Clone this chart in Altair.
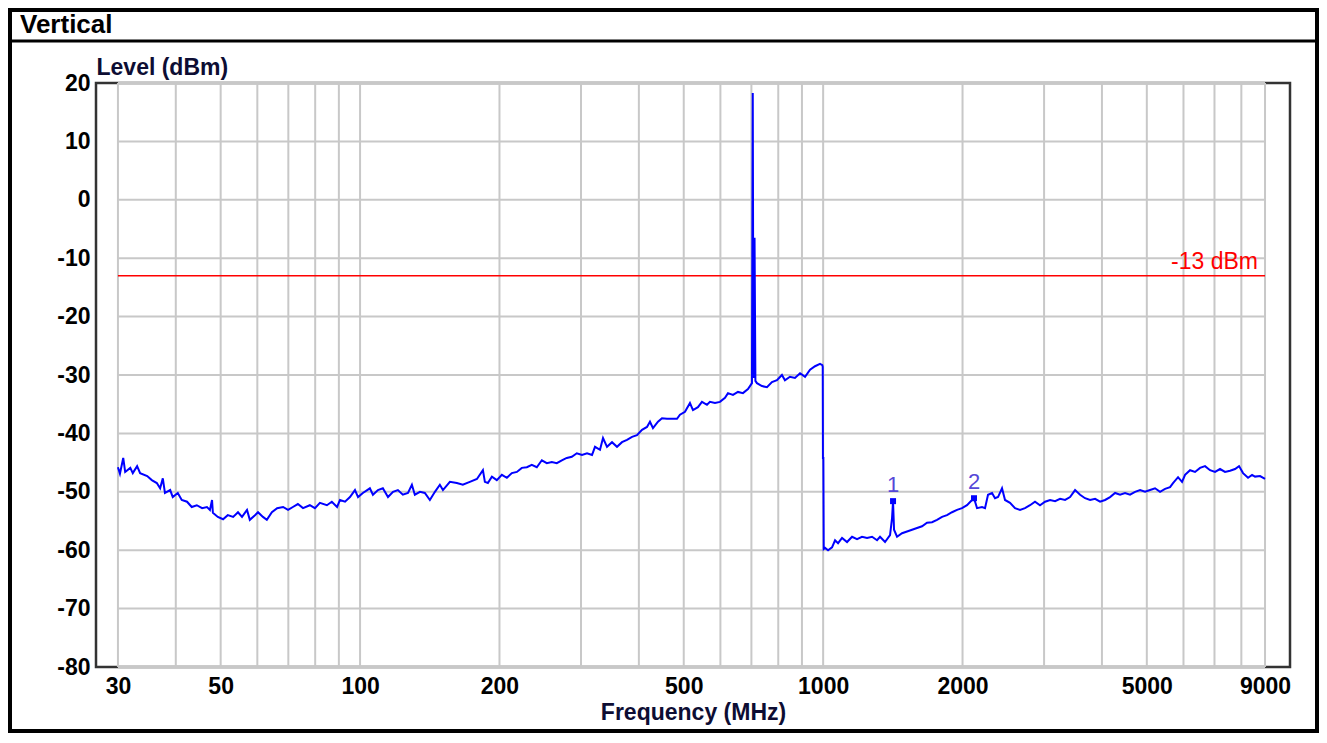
import altair as alt
import pandas as pd

# ---------------- data ----------------
freq_mhz = [
    30.0, 30.3, 30.8, 31.1, 31.9, 32.3, 33.0, 33.5, 34.7, 35.5, 36.4, 37.0, 37.5, 37.9,
    38.9, 39.4, 40.4, 41.2, 42.3, 43.3, 44.4, 45.6, 46.7, 47.4, 47.9, 48.1, 49.3, 50.6,
    51.8, 53.2, 54.5, 55.6, 57.0, 57.8, 59.3, 60.2, 61.7, 62.9, 64.5, 66.2, 68.2, 69.9,
    71.6, 73.4, 75.3, 77.9, 79.9, 81.9, 84.8, 86.9, 89.2, 90.5, 92.8, 95.1, 97.5, 99.0,
    101.4, 105.0, 106.6, 109.3, 112.0, 114.9, 117.8, 120.7, 123.7, 126.9, 129.4, 131.3,
    134.7, 138.0, 141.5, 145.1, 148.7, 151.0, 156.3, 161.8, 166.7, 172.6, 178.8, 184.2,
    186.0, 188.8,
    192.6, 197.4, 202.4, 207.5, 212.7, 218.1, 223.5, 229.2, 234.9, 240.8, 246.9, 253.1,
    259.5, 266.0, 272.7, 279.5, 286.6, 293.8, 301.5, 309.1, 316.9, 321.6, 329.7, 334.7,
    341.4, 350.0, 358.8, 367.8, 377.1, 386.6, 396.3, 406.3, 416.5, 422.7, 429.1, 439.9,
    448.7, 460.0, 483.5, 490.7, 503.1, 515.7, 523.5, 536.6, 547.4, 561.2, 569.6, 584.0,
    598.7, 613.8, 623.0, 638.7, 654.7, 671.2, 688.1, 701.9, 704.7, 707.0, 711.0, 714.0,
    719.6, 737.7, 756.3, 775.3, 794.8, 814.8, 827.0, 847.9, 869.2, 891.5, 914.0, 937.0,
    960.5, 984.7, 996.0, 998.0, 999.0, 1001.0, 1003.0,
    1009.5, 1024.7, 1045.3, 1061.0, 1077.0, 1098.6, 1126.2, 1154.6, 1183.6, 1213.4,
    1244.0, 1275.3, 1307.4, 1327.0, 1360.4, 1394.7, 1408.6, 1415.6, 1422.7, 1444.1,
    1480.4, 1517.7, 1555.9, 1595.0, 1635.2, 1676.3, 1718.5, 1761.7, 1806.1, 1851.5,
    1898.1, 1945.9, 1994.8, 2045.0, 2096.5, 2117.5, 2149.3, 2203.4, 2236.5, 2270.1,
    2315.7, 2350.6, 2385.9, 2433.8, 2470.4, 2532.6, 2596.4, 2661.7, 2728.6, 2797.3,
    2867.6, 2939.7, 3015.0, 3090.9, 3168.7, 3248.4, 3330.1, 3413.9, 3499.9, 3588, 3678,
    3771, 3866, 3963, 4063, 4165, 4270, 4377, 4487, 4600, 4716, 4835, 4957, 5081, 5209,
    5340, 5475, 5612, 5696, 5840, 5957, 6047, 6199, 6355, 6515, 6679, 6847, 7019, 7196,
    7377, 7563, 7753, 7909, 8068, 8271, 8438, 8564, 8780, 9000,
]
level_dbm = [
    -45.8, -46.9, -44.2, -46.6, -45.9, -46.8, -45.6, -46.8, -47.3, -48.0, -48.5, -49.4, -47.7, -50.2,
    -49.7, -50.9, -50.2, -51.4, -51.7, -52.6, -52.3, -52.8, -52.6, -53.1, -51.4, -53.6, -54.3, -54.7,
    -54.0, -54.3, -53.5, -54.3, -53.1, -54.8, -54.0, -53.5, -54.3, -54.8, -53.5, -52.8, -52.6, -53.1,
    -52.6, -52.1, -52.8, -52.3, -52.8, -51.9, -52.3, -51.7, -52.6, -51.4, -51.7, -50.9, -49.7, -50.9,
    -50.2, -49.4, -50.5, -49.7, -49.4, -50.9, -50.0, -49.7, -50.5, -50.2, -48.8, -50.5,
    -50.0, -50.2, -51.4, -50.0, -48.8, -49.7, -48.3, -48.5, -48.8, -48.3, -47.8, -46.3,
    -48.3, -48.5,
    -47.4, -48.0, -47.1, -47.6, -46.8, -46.6, -45.9, -45.8, -45.4, -45.8, -44.6, -45.1,
    -44.9, -45.1, -44.6, -44.2, -44.0, -43.4, -43.7, -43.4, -43.7, -42.3, -42.8, -40.8,
    -42.3, -41.5, -42.3, -41.5, -41.1, -40.6, -40.3, -39.4, -38.9, -38.0, -39.1, -38.0,
    -37.4, -37.5, -37.5, -36.8, -36.3, -34.8, -36.0, -35.5, -34.6, -35.1, -34.6, -34.8,
    -34.6, -33.9, -33.1, -33.4, -32.9, -33.1, -32.4, -31.4, 18.3, -30.5, -6.5, -31.0,
    -31.4, -31.9, -32.1, -31.2, -30.9, -30.0, -30.9, -30.3, -30.5, -29.7, -30.3, -29.1,
    -28.5, -28.1, -28.3, -28.6, -44.2, -44.2, -59.8,
    -59.6, -60.0, -59.5, -58.3, -58.8, -57.9, -58.6, -57.7, -58.1, -57.7,
    -57.9, -57.7, -58.3, -57.7, -58.6, -57.4, -54.5, -51.6, -56.5, -57.7,
    -57.1, -56.8, -56.5, -56.2, -55.9, -55.3, -55.2, -54.8, -54.3, -54.0,
    -53.5, -53.1, -52.8, -52.3, -51.4, -51.1, -52.8, -52.6, -52.8, -50.5,
    -50.2, -51.1, -50.9, -49.4, -51.4, -51.9, -52.8, -53.1, -52.8, -52.3,
    -51.7, -52.3, -51.7, -51.4, -51.6, -51.2, -51.4, -50.9, -49.7, -50.5, -51.1,
    -51.4, -51.2, -51.7, -51.4, -50.9, -50.2, -50.5, -50.2, -50.5, -50.0, -49.7, -50.0, -49.7, -49.4,
    -50.0, -49.5, -49.2, -48.5, -47.5, -48.3, -47.1, -46.3, -46.6, -45.9, -45.6, -46.3, -46.6, -46.1,
    -46.6, -46.4, -46.1, -45.6, -46.8, -47.6, -47.1, -47.4, -47.3, -47.8,
]

marker_ids = ["1", "2"]
marker_freq = [1415.6, 2117.5]
marker_level = [-51.6, -51.1]

limit_level = [-13]
limit_text = ["-13 dBm"]

x_tick_values = [30, 50, 100, 200, 500, 1000, 2000, 5000, 9000]
x_grid_values = [30, 40, 50, 60, 70, 80, 90, 100, 200, 300, 400, 500, 600, 700, 800, 900,
                 1000, 2000, 3000, 4000, 5000, 6000, 7000, 8000, 9000]
y_tick_values = [20, 10, 0, -10, -20, -30, -40, -50, -60, -70, -80]

chart_title = "Vertical"
x_title = "Frequency (MHz)"
y_title = "Level (dBm)"

# ---------------- styling ----------------
FONT = "Liberation Sans"
W, H = 1194, 584
PAD = {"left": 88, "top": 75, "right": 29, "bottom": 66}

x_scale = alt.Scale(type="log", domain=[26.9, 10190], nice=False)
y_scale = alt.Scale(domain=[-80, 20], nice=False, zero=False)

trace_df = pd.DataFrame({"freq": freq_mhz, "level": level_dbm, "idx": range(len(freq_mhz))})
marker_df = pd.DataFrame({"freq": marker_freq, "level": marker_level, "id": marker_ids})
limit_df = pd.DataFrame({"level": limit_level, "label": limit_text})
vgrid_df = pd.DataFrame({"freq": x_grid_values})
hgrid_df = pd.DataFrame({"level": y_tick_values})
one_df = pd.DataFrame({"t": [chart_title]})

GRID = "#c8c8c8"

vgrid = alt.Chart(vgrid_df).mark_rule(color=GRID, strokeWidth=2).encode(
    x=alt.X("freq:Q", scale=x_scale),
    y=alt.datum(-80, scale=y_scale),
    y2=alt.datum(20),
)

hgrid = alt.Chart(hgrid_df).mark_rule(color=GRID, strokeWidth=2).encode(
    y=alt.Y("level:Q", scale=y_scale),
    x=alt.datum(30),
    x2=alt.datum(9000),
)

limit_rule = alt.Chart(limit_df).mark_rule(color="#ff0000", strokeWidth=1.6).encode(
    y=alt.Y("level:Q"),
    x=alt.datum(30),
    x2=alt.datum(9000),
)

limit_label = alt.Chart(limit_df).mark_text(
    color="#ff0000", font=FONT, fontSize=23, align="right", baseline="alphabetic", dx=-7, dy=-7
).encode(
    y=alt.Y("level:Q"),
    x=alt.datum(9000),
    text="label:N",
)

trace = alt.Chart(trace_df).mark_line(color="#0000ff", strokeWidth=2).encode(
    x=alt.X(
        "freq:Q",
        scale=x_scale,
        axis=alt.Axis(
            values=x_tick_values, format="d", title=x_title, labelPadding=8, tickSize=0,
            titlePadding=3, labelFlush=False, labelOverlap=False,
        ),
    ),
    y=alt.Y(
        "level:Q",
        scale=y_scale,
        axis=alt.Axis(
            values=y_tick_values, title=y_title, labelPadding=6, tickSize=0,
            labelExpr="toString(datum.value)",
            titleAngle=0, titleAlign="left", titleBaseline="alphabetic",
            titleX=0, titleY=-9, labelOverlap=False,
        ),
    ),
    order="idx:Q",
)

markers = alt.Chart(marker_df).mark_square(size=36, color="#0000ff", opacity=1).encode(
    x="freq:Q", y="level:Q"
)

marker_labels = alt.Chart(marker_df).mark_text(
    color="#5548d8", font=FONT, fontSize=22, baseline="alphabetic", dy=-9
).encode(x="freq:Q", y="level:Q", text="id:N")

# decorative frame of the picture: outer border, title bar separator and title text
outer = alt.Chart(one_df).mark_rect(fillOpacity=0, stroke="#000000", strokeWidth=4).encode(
    x=alt.value(-86), x2=alt.value(1221), y=alt.value(-73), y2=alt.value(648)
)
title_bar = alt.Chart(one_df).mark_rule(color="#000000", strokeWidth=3).encode(
    x=alt.value(-88), x2=alt.value(1223), y=alt.value(-42)
)
title_txt = alt.Chart(one_df).mark_text(
    font=FONT, fontSize=26, fontWeight="bold", align="left", baseline="alphabetic", color="#000000"
).encode(x=alt.value(-76), y=alt.value(-50), text="t:N")

chart = (
    alt.layer(vgrid, hgrid, limit_rule, limit_label, trace, markers, marker_labels,
              outer, title_bar, title_txt)
    .properties(width=W, height=H, padding=PAD, autosize=alt.AutoSizeParams(type="none"),
                background="#ffffff")
    .configure_view(stroke="#333333", strokeWidth=2.5)
    .configure_axis(
        grid=False, domain=False, ticks=False,
        labelFont=FONT, labelFontSize=23, labelFontWeight="bold", labelColor="#000000",
        titleFont=FONT, titleFontSize=23, titleFontWeight="bold", titleColor="#0d0d33",
    )
)

chart.save("out.html", embed_options={"renderer": "svg", "actions": False})
